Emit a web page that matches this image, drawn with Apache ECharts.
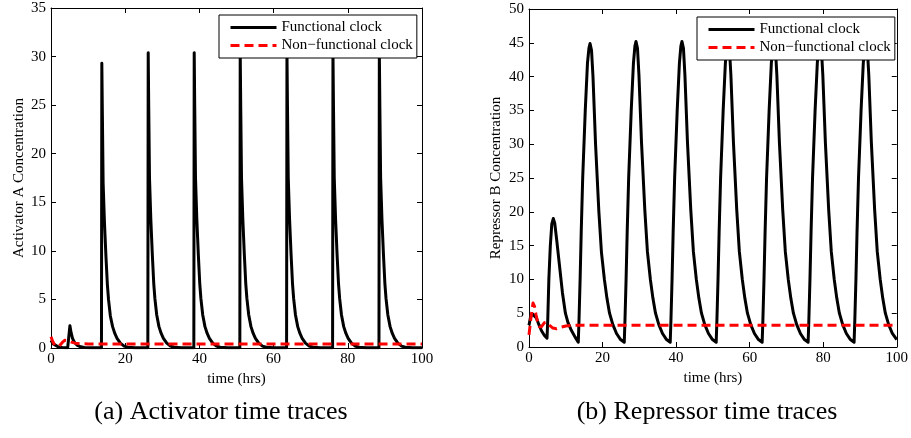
<!DOCTYPE html>
<html>
<head>
<meta charset="utf-8">
<script src="https://cdn.jsdelivr.net/npm/echarts@6/dist/echarts.min.js"></script>
<style>
html,body{margin:0;padding:0;background:#fff;}
#chart{width:911px;height:438px;}
</style>
</head>
<body>
<div id="chart"></div>
<script>
// ---------- data ----------
const xTicks = [0, 20, 40, 60, 80, 100];
const seriesNames = ['Functional clock', 'Non\u2212functional clock'];
const captions = ['(a) Activator time traces', '(b) Repressor time traces'];
const axisTitles = ['Activator A Concentration', 'Repressor B Concentration', 'time (hrs)'];

// Activator A, functional clock
const timeAF = [0,0.5,1,2,3,4.5,4.9,5.1,5.4,5.8,6.3,7,8,9,11,
  13.6,13.7,13.85,14.05,14.4,14.8,15.2,15.5,16.0,16.6,17.2,17.8,18.7,19.7,20.7,22.7,
  26.1,26.2,26.35,26.55,26.9,27.3,27.7,28.0,28.5,29.1,29.7,30.3,31.2,32.2,33.2,35.2,
  38.5,38.6,38.75,38.95,39.3,39.7,40.1,40.4,40.9,41.5,42.1,42.7,43.6,44.6,45.6,47.6,
  50.9,51.0,51.15,51.35,51.7,52.1,52.5,52.8,53.3,53.9,54.5,55.1,56.0,57.0,58.0,60.0,
  63.5,63.6,63.75,63.95,64.3,64.7,65.1,65.4,65.9,66.5,67.1,67.7,68.6,69.6,70.6,72.6,
  75.9,76.0,76.15,76.35,76.7,77.1,77.5,77.8,78.3,78.9,79.5,80.1,81.0,82.0,83.0,85.0,
  88.4,88.5,88.65,88.85,89.2,89.6,90.0,90.3,90.8,91.4,92.0,92.6,93.5,94.5,95.5,97.5,100];
const valAF = [0.8,0.45,0.25,0.1,0.05,0.03,0.1,2.3,1.6,1.0,0.6,0.3,0.12,0.05,0.02,
  0.02,29.3,24,17,13,9.5,6.5,5,3.3,2.2,1.5,1.0,0.5,0.2,0.08,0.03,
  0.02,30.4,24.5,17.5,13.3,9.7,6.6,5.1,3.4,2.2,1.5,1.0,0.5,0.2,0.08,0.03,
  0.02,30.4,24.5,17.5,13.3,9.7,6.6,5.1,3.4,2.2,1.5,1.0,0.5,0.2,0.08,0.03,
  0.02,30.5,24.5,17.5,13.3,9.7,6.6,5.1,3.4,2.2,1.5,1.0,0.5,0.2,0.08,0.03,
  0.02,30.5,24.5,17.5,13.3,9.7,6.6,5.1,3.4,2.2,1.5,1.0,0.5,0.2,0.08,0.03,
  0.02,30.5,24.5,17.5,13.3,9.7,6.6,5.1,3.4,2.2,1.5,1.0,0.5,0.2,0.08,0.03,
  0.02,30.5,24.5,17.5,13.3,9.7,6.6,5.1,3.4,2.2,1.5,1.0,0.5,0.2,0.08,0.03,0.02];

// Activator A, non-functional clock
const timeAN = [0,0.5,1,1.5,2.2,3,3.7,4.5,5.5,6.5,8,10,100];
const valAN = [1.15,0.65,0.3,0.12,0.2,0.55,0.8,0.75,0.6,0.5,0.43,0.42,0.42];

// Repressor B, functional clock
const timeBF = [0,0.4,0.9,1.4,2,2.7,3.4,4.2,4.9,5.1,5.4,5.8,6.2,6.6,7.0,7.5,8.3,9.1,9.9,10.6,11.4,12.5,
  13.4,13.6,13.9,14.2,14.6,15.3,15.9,16.3,16.6,17.0,17.4,18.1,19.0,19.7,20.5,21.2,21.9,22.8,23.8,24.9,
  25.9,26.1,26.4,26.7,27.1,27.8,28.4,28.8,29.1,29.5,29.9,30.6,31.5,32.2,33.0,33.7,34.4,35.3,36.3,37.4,
  38.4,38.6,38.9,39.2,39.6,40.3,40.9,41.3,41.6,42.0,42.4,43.1,44.0,44.7,45.5,46.2,46.9,47.8,48.8,49.9,
  50.9,51.1,51.4,51.7,52.1,52.8,53.4,53.8,54.1,54.5,54.9,55.6,56.5,57.2,58.0,58.7,59.4,60.3,61.3,62.4,
  63.4,63.6,63.9,64.2,64.6,65.3,65.9,66.3,66.6,67.0,67.4,68.1,69.0,69.7,70.5,71.2,71.9,72.8,73.8,74.9,
  75.9,76.1,76.4,76.7,77.1,77.8,78.4,78.8,79.1,79.5,79.9,80.6,81.5,82.2,83.0,83.7,84.4,85.3,86.3,87.4,
  88.4,88.6,88.9,89.2,89.6,90.3,90.9,91.3,91.6,92.0,92.4,93.1,94.0,94.7,95.5,96.2,96.9,97.8,98.8,100];
const valBF = [3.2,4.4,4.9,4.9,4.3,3.3,2.4,1.7,1.3,4,10,15,18.2,19,18.3,16,12,8,5,3.6,2.6,1.5,
  0.7,4,10,17,25,35,42,44.2,44.9,43.9,40,30,20,14,10,7.2,5,3.3,2,1.1,
  0.7,4,10,17,25,35,42,44.5,45.2,44.2,40.2,30.2,20.2,14.1,10,7.2,5,3.3,2,1.1,
  0.7,4,10,17,25,35,42,44.5,45.2,44.2,40.2,30.2,20.2,14.1,10,7.2,5,3.3,2,1.1,
  0.7,4,10,17,25,35,42,44.5,45.2,44.2,40.2,30.2,20.2,14.1,10,7.2,5,3.3,2,1.1,
  0.7,4,10,17,25,35,42,44.5,45.2,44.2,40.2,30.2,20.2,14.1,10,7.2,5,3.3,2,1.1,
  0.7,4,10,17,25,35,42,44.5,45.2,44.2,40.2,30.2,20.2,14.1,10,7.2,5,3.3,2,1.1,
  0.7,4,10,17,25,35,42,44.5,45.2,44.2,40.2,30.2,20.2,14.1,10,7.2,5,3.3,2,1.1];

// Repressor B, non-functional clock
const timeBN = [0,0.5,1.1,1.5,1.9,2.3,2.8,3.4,4.2,4.8,5.6,6.5,7.5,8.5,10,12,100];
const valBN = [1.8,4.2,6.5,6.0,4.8,3.8,3.0,3.0,3.6,3.7,3.2,2.8,2.7,2.9,3.1,3.2,3.2];

// ---------- chart ----------
const zip = (t, v) => t.map((x, i) => [x, v[i]]);
const FONT = 'Liberation Serif';
const black = '#000';

function baseX(grid, max) {
  return {
    type: 'value', gridIndex: grid, min: 0, max: max, interval: 20,
    axisLine: {show: true, onZero: false, lineStyle: {color: black, width: 1}},
    axisTick: {show: true, inside: true, length: 5, lineStyle: {color: black}},
    splitLine: {show: false}
  };
}
function baseY(grid, max) {
  return {
    type: 'value', gridIndex: grid, min: 0, max: max, interval: 5,
    axisLine: {show: true, onZero: false, lineStyle: {color: black, width: 1}},
    axisTick: {show: true, inside: true, length: 5, lineStyle: {color: black}},
    splitLine: {show: false}
  };
}
const lbl = {color: black, fontFamily: FONT, fontSize: 15};

const xAxes = [
  Object.assign(baseX(0, 100), {position: 'bottom', axisLabel: Object.assign({margin: 4}, lbl),
    name: axisTitles[2], nameLocation: 'middle', nameGap: 16, nameTextStyle: lbl}),
  Object.assign(baseX(0, 100), {position: 'top', axisLabel: {show: false}}),
  Object.assign(baseX(1, 100), {position: 'bottom', axisLabel: Object.assign({margin: 4}, lbl),
    name: axisTitles[2], nameLocation: 'middle', nameGap: 16, nameTextStyle: lbl}),
  Object.assign(baseX(1, 100), {position: 'top', axisLabel: {show: false}})
];
const yAxes = [
  Object.assign(baseY(0, 35), {position: 'left', axisLabel: Object.assign({margin: 5}, lbl),
    name: axisTitles[0], nameLocation: 'middle', nameGap: 24, nameTextStyle: lbl}),
  Object.assign(baseY(0, 35), {position: 'right', axisLabel: {show: false}}),
  Object.assign(baseY(1, 50), {position: 'left', axisLabel: Object.assign({margin: 5}, lbl),
    name: axisTitles[1], nameLocation: 'middle', nameGap: 25, nameTextStyle: lbl}),
  Object.assign(baseY(1, 50), {position: 'right', axisLabel: {show: false}})
];

const funcStyle = {color: black, width: 3, type: 'solid', join: 'round'};
const nonStyle = {color: '#ff0000', width: 3, type: [9, 5], join: 'round'};

function lineSeries(name, data, xi, yi, style) {
  return {
    type: 'line', name: name, data: data, xAxisIndex: xi, yAxisIndex: yi,
    showSymbol: false, symbol: 'none', smooth: false, animation: false,
    lineStyle: style, itemStyle: {color: style.color}, z: name === seriesNames[0] ? 2 : 3
  };
}

function legendAt(left, top) {
  return {
    left: left, top: top, orient: 'vertical',
    data: seriesNames,
    backgroundColor: '#fff', borderColor: black, borderWidth: 1, borderRadius: 0,
    padding: [5, 4, 5, 10], itemGap: 3, itemWidth: 46, itemHeight: 14,
    itemStyle: {opacity: 0, borderWidth: 0},
    lineStyle: {width: 3},
    textStyle: {color: black, fontFamily: FONT, fontSize: 15, padding: [0, 0, 0, 0]},
    selectedMode: false, z: 10
  };
}

const capFont = '26px "Liberation Serif"';
const chart = echarts.init(document.getElementById('chart'), null, {renderer: 'canvas'});
chart.setOption({
  backgroundColor: '#fff',
  animation: false,
  grid: [
    {left: 51, top: 8, width: 371, height: 340},
    {left: 529, top: 9, width: 371, height: 338}
  ],
  xAxis: xAxes,
  yAxis: yAxes,
  legend: [legendAt(219, 15), legendAt(697, 17)],
  series: [
    lineSeries(seriesNames[0], zip(timeAF, valAF), 0, 0, funcStyle),
    lineSeries(seriesNames[1], zip(timeAN, valAN), 0, 0, nonStyle),
    lineSeries(seriesNames[0], zip(timeBF, valBF), 2, 2, funcStyle),
    lineSeries(seriesNames[1], zip(timeBN, valBN), 2, 2, nonStyle)
  ],
  graphic: [
    {type: 'text', x: 221, y: 412, style: {text: captions[0], font: capFont, fill: black,
      align: 'center', verticalAlign: 'middle', textAlign: 'center', textVerticalAlign: 'middle'}},
    {type: 'text', x: 707, y: 412, style: {text: captions[1], font: capFont, fill: black,
      align: 'center', verticalAlign: 'middle', textAlign: 'center', textVerticalAlign: 'middle'}}
  ]
});
</script>
</body>
</html>
